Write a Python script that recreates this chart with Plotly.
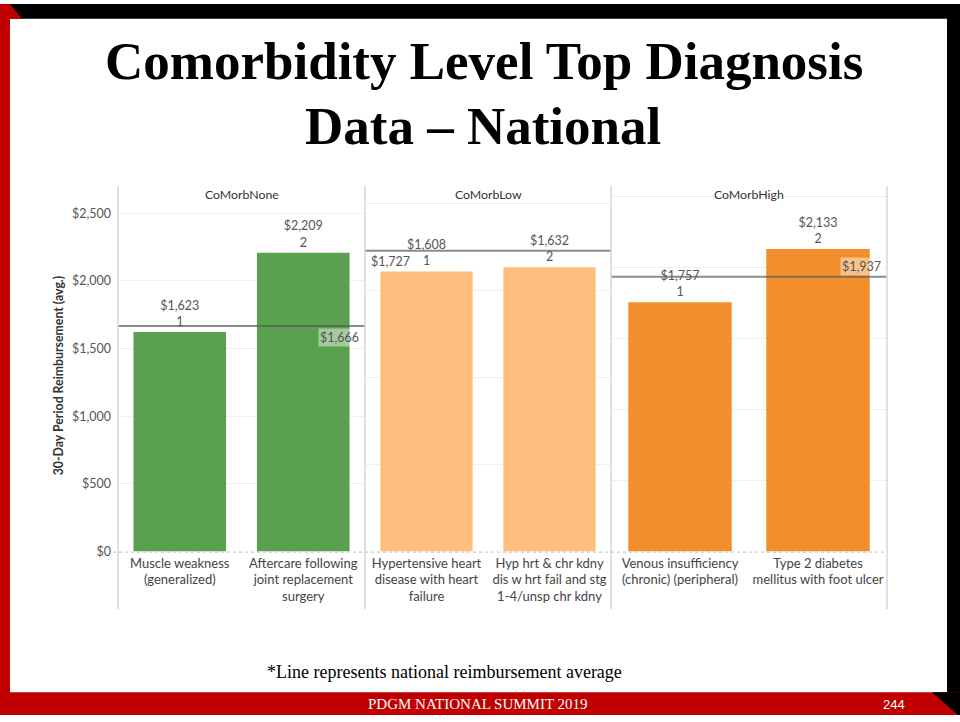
import plotly.graph_objects as go

# ---------------- data ----------------
groups = ["CoMorbNone", "CoMorbLow", "CoMorbHigh"]
diagnoses = [
    ["Muscle weakness<br>(generalized)", "Aftercare following<br>joint replacement<br>surgery"],
    ["Hypertensive heart<br>disease with heart<br>failure", "Hyp hrt & chr kdny<br>dis w hrt fail and stg<br>1-4/unsp chr kdny"],
    ["Venous insufficiency<br>(chronic) (peripheral)", "Type 2 diabetes<br>mellitus with foot ulcer"],
]
reimbursement = [[1623, 2209], [1608, 1632], [1757, 2133]]
ranks = [[1, 2], [1, 2], [1, 2]]
national_avg = [1666, 1727, 1937]
y_ticks = [0, 500, 1000, 1500, 2000, 2500]
y_tick_labels = ["$0", "$500", "$1,000", "$1,500", "$2,000", "$2,500"]

# ---------------- layout helpers ----------------
W, H = 960, 722
def X(x): return x / W
def Y(y): return 1 - y / H

colors = ["#59A14F", "#FFBE7D", "#F28E2B"]
panel_px = [(118, 365), (365, 611), (611, 887)]
plot_top, plot_bot = 188, 557
y_ranges = [2700, 2097, 2575]
FONT = "Lato, 'Open Sans', sans-serif"
SERIF = "'Liberation Serif', 'DejaVu Serif', serif"
TXT = "#555555"

fig = go.Figure()
layout_axes = {}
shapes = []
annotations = []

for i in range(3):
    xa = "x" if i == 0 else f"x{i+1}"
    ya = "y" if i == 0 else f"y{i+1}"
    fig.add_trace(go.Bar(
        x=diagnoses[i], y=reimbursement[i], customdata=ranks[i],
        xaxis=xa, yaxis=ya, width=0.75,
        marker=dict(color=colors[i], line=dict(width=0)),
        texttemplate="$%{y:,.0f}<br>%{customdata}",
        textposition="outside", cliponaxis=False,
        textfont=dict(family=FONT, size=12.5, color=TXT),
        hoverinfo="skip", showlegend=False,
    ))
    x0, x1 = panel_px[i]
    layout_axes["xaxis" if i == 0 else f"xaxis{i+1}"] = dict(
        domain=[X(x0), X(x1)], anchor=ya, type="category",
        range=[-0.5, 1.5], showgrid=False, zeroline=False, showline=False,
        ticks="", tickfont=dict(family=FONT, size=13, color="#444444"),
        ticklabelstandoff=2, fixedrange=True,
    )
    layout_axes["yaxis" if i == 0 else f"yaxis{i+1}"] = dict(
        domain=[Y(plot_bot), Y(plot_top)], anchor=xa,
        range=[0, y_ranges[i]], tickvals=y_ticks,
        ticktext=y_tick_labels if i == 0 else None,
        showticklabels=(i == 0), showgrid=True, gridcolor="#efefef", gridwidth=1,
        zeroline=False, showline=False, ticks="",
        tickfont=dict(family=FONT, size=12.5, color=TXT),
        ticklabelstandoff=6, fixedrange=True,
    )
    # panel header
    annotations.append(dict(
        text=groups[i], x=X((x0 + x1) / 2), y=Y(196), xref="paper", yref="paper",
        showarrow=False, font=dict(family=FONT, size=12.3, color="#333333"),
        xanchor="center", yanchor="middle",
    ))
    # national average reference line
    shapes.append(dict(
        type="line", xref=f"{xa} domain", yref=ya, x0=0, x1=1,
        y0=national_avg[i], y1=national_avg[i],
        line=dict(color="rgba(90,90,90,0.7)", width=2), layer="above",
    ))

# reference line labels
ref_pos = [
    dict(x=0.985, xanchor="right", yanchor="top", yshift=-2),
    dict(x=0.015, xanchor="left", yanchor="top", yshift=-1),
    dict(x=0.985, xanchor="right", yanchor="bottom", yshift=1),
]
for i in range(3):
    xa = "x" if i == 0 else f"x{i+1}"
    ya = "y" if i == 0 else f"y{i+1}"
    p = ref_pos[i]
    annotations.append(dict(
        text=f"${national_avg[i]:,}", xref=f"{xa} domain", yref=ya,
        x=p["x"], y=national_avg[i], xanchor=p["xanchor"], yanchor=p["yanchor"],
        yshift=p["yshift"], showarrow=False, bgcolor="rgba(255,255,255,0.45)",
        borderpad=1, font=dict(family=FONT, size=12.5, color=TXT),
    ))

# panel separators & zero line
for xv in [118, 365, 611, 887]:
    shapes.append(dict(type="line", xref="paper", yref="paper",
                       x0=X(xv), x1=X(xv), y0=Y(188), y1=Y(615),
                       line=dict(color="#d6d6d6", width=1.5)))
shapes.append(dict(type="line", xref="paper", yref="paper",
                   x0=X(113), x1=X(887), y0=Y(557.5), y1=Y(557.5),
                   line=dict(color="#bdbdbd", width=1, dash="dot"), layer="above"))

# axis title
annotations.append(dict(
    text="<b>30-Day Period Reimbursement (avg.)</b>", x=X(58), y=Y(380),
    xref="paper", yref="paper", textangle=-90, showarrow=False,
    font=dict(family=FONT, size=12.3, color="#333333"),
    xanchor="center", yanchor="middle",
))

# slide frame
shapes += [
    dict(type="rect", xref="paper", yref="paper", x0=X(10), x1=X(960), y0=Y(19), y1=Y(4),
         fillcolor="black", line=dict(width=0)),
    dict(type="rect", xref="paper", yref="paper", x0=X(947), x1=X(960), y0=Y(722), y1=Y(4),
         fillcolor="black", line=dict(width=0)),
    dict(type="rect", xref="paper", yref="paper", x0=X(0), x1=X(10), y0=Y(722), y1=Y(4),
         fillcolor="#C00000", line=dict(width=0)),
    dict(type="path", xref="paper", yref="paper",
         path=f"M {X(10)} {Y(4)} L {X(22)} {Y(19)} L {X(10)} {Y(19)} Z",
         fillcolor="#C00000", line=dict(width=0)),
    dict(type="rect", xref="paper", yref="paper", x0=X(0), x1=X(960), y0=Y(722), y1=Y(699),
         fillcolor="#C00000", line=dict(width=0)),
    dict(type="path", xref="paper", yref="paper",
         path=f"M {X(932)} {Y(699)} L {X(960)} {Y(699)} L {X(960)} {Y(722)} L {X(958)} {Y(722)} Z",
         fillcolor="black", line=dict(width=0)),
]

# title, footnote, footer
annotations += [
    dict(text="<b>Comorbidity Level Top Diagnosis</b>", x=X(484), y=Y(62), xref="paper", yref="paper",
         showarrow=False, font=dict(family=SERIF, size=53, color="black"),
         xanchor="center", yanchor="middle"),
    dict(text="<b>Data – National</b>", x=X(483), y=Y(127), xref="paper", yref="paper",
         showarrow=False, font=dict(family=SERIF, size=53, color="black"),
         xanchor="center", yanchor="middle"),
    dict(text="*Line represents national reimbursement average", x=X(444), y=Y(679),
         xref="paper", yref="paper", showarrow=False,
         font=dict(family=SERIF, size=18, color="black"), xanchor="center", yanchor="middle"),
    dict(text="PDGM NATIONAL SUMMIT 2019", x=X(478), y=Y(711), xref="paper", yref="paper",
         showarrow=False, font=dict(family=SERIF, size=15, color="white"),
         xanchor="center", yanchor="middle"),
    dict(text="244", x=X(894), y=Y(711), xref="paper", yref="paper",
         showarrow=False, font=dict(family="'Liberation Sans', Arial, sans-serif", size=13, color="white"),
         xanchor="center", yanchor="middle"),
]

fig.update_layout(
    width=W, height=H, margin=dict(l=0, r=0, t=0, b=0),
    paper_bgcolor="white", plot_bgcolor="white",
    bargap=0.25, shapes=shapes, annotations=annotations,
    **layout_axes,
)

post = (
    "var s=document.createElement('style');"
    "s.textContent='html,body{margin:0;padding:0;overflow:hidden;}';"
    "document.head.appendChild(s);"
)
fig.write_html("out.html", config={"displayModeBar": False}, post_script=post)
